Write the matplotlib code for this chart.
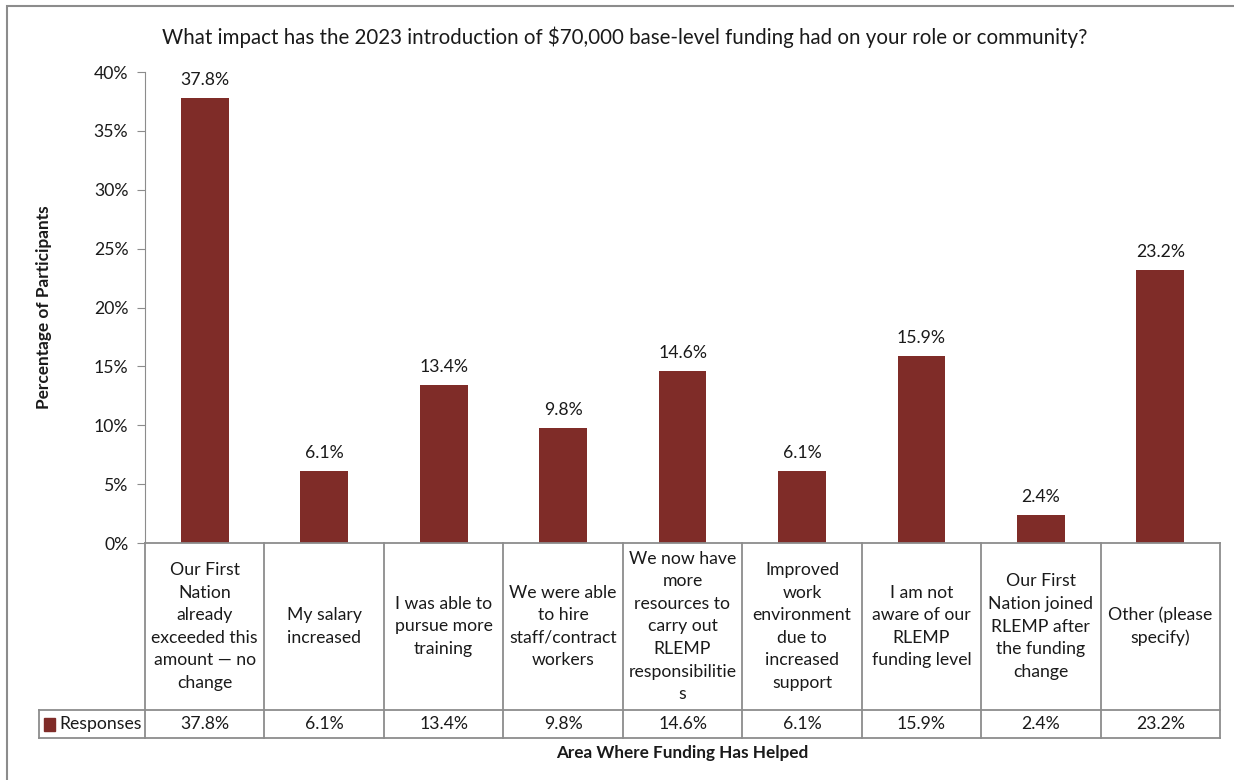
import matplotlib.pyplot as plt
from matplotlib.patches import Rectangle
from matplotlib.lines import Line2D

plt.rcParams['font.family'] = ['Lato', 'DejaVu Sans']

categories = [
    "Our First\nNation\nalready\nexceeded this\namount \u2014 no\nchange",
    "My salary\nincreased",
    "I was able to\npursue more\ntraining",
    "We were able\nto hire\nstaff/contract\nworkers",
    "We now have\nmore\nresources to\ncarry out\nRLEMP\nresponsibilitie\ns",
    "Improved\nwork\nenvironment\ndue to\nincreased\nsupport",
    "I am not\naware of our\nRLEMP\nfunding level",
    "Our First\nNation joined\nRLEMP after\nthe funding\nchange",
    "Other (please\nspecify)",
]
responses = [37.8, 6.1, 13.4, 9.8, 14.6, 6.1, 15.9, 2.4, 23.2]
yticks = [0, 5, 10, 15, 20, 25, 30, 35, 40]

bar_color = '#7F2C28'
grid_color = '#8C8C8C'
txt = '#1a1a1a'
fs = 12.7

W, H = 1234, 780
fig = plt.figure(figsize=(W / 100, H / 100), dpi=100)

# chart border
fig.add_artist(Rectangle((7 / W, -0.05), 1.2, 1 - 6 / H + 0.05, transform=fig.transFigure,
                         fill=False, edgecolor='#8C8C8C', linewidth=1.5))

# bar axes
x0, x1 = 145, 1220
ax = fig.add_axes([x0 / W, (H - 543) / H, (x1 - x0) / W, (543 - 72) / H])
xs = range(len(responses))
ax.bar(xs, responses, width=0.4, color=bar_color)
ax.set_xlim(-0.5, len(responses) - 0.5)
ax.set_ylim(0, 40)
ax.set_yticks(yticks)
ax.set_yticklabels([f'{t}%' for t in yticks], fontsize=fs, color=txt)
ax.tick_params(axis='y', direction='out', length=6, color=grid_color, pad=6)
ax.set_xticks([])
for s in ['top', 'right', 'bottom']:
    ax.spines[s].set_visible(False)
ax.spines['left'].set_color(grid_color)
for x, v in zip(xs, responses):
    ax.annotate(f'{v}%', (x, v), xytext=(0, 7), textcoords='offset points',
                ha='center', va='bottom', fontsize=fs, color=txt)

# data table under the bars
tab = fig.add_axes([x0 / W, (H - 738) / H, (x1 - x0) / W, (738 - 543) / H])
tab.set_xlim(-0.5, len(responses) - 0.5)
tab.set_ylim(195, 0)
tab.axis('off')
lw = 1.3
n = len(responses)
legend_left = -0.5 - (x0 - 39) / ((x1 - x0) / n)
tab.add_line(Line2D([-0.5, n - 0.5], [0, 0], color=grid_color, lw=lw, clip_on=False))
for y in [167, 195]:
    tab.add_line(Line2D([legend_left, n - 0.5], [y, y], color=grid_color, lw=lw, clip_on=False))
for i in range(n + 1):
    tab.add_line(Line2D([i - 0.5, i - 0.5], [0, 195], color=grid_color, lw=lw, clip_on=False))
tab.add_line(Line2D([legend_left, legend_left], [167, 195], color=grid_color, lw=lw, clip_on=False))

for i, (c, v) in enumerate(zip(categories, responses)):
    tab.text(i, 83.5, c, ha='center', va='center', fontsize=fs, color=txt,
             linespacing=1.5, clip_on=False)
    tab.text(i, 181, f'{v}%', ha='center', va='center', fontsize=fs, color=txt, clip_on=False)

tab.add_patch(Rectangle((legend_left + 0.04, 175), 0.09, 13, color=bar_color, clip_on=False))
tab.text(legend_left + 0.17, 181, 'Responses', ha='left', va='center', fontsize=fs,
         color=txt, clip_on=False)

fig.text(625 / W, 1 - 37 / H,
         'What impact has the 2023 introduction of $70,000 base-level funding had on your role or community?',
         ha='center', va='center', fontsize=14.8, color=txt)
fig.text(44 / W, 1 - 307 / H, 'Percentage of Participants', rotation=90,
         ha='center', va='center', fontsize=12.4, fontweight='bold', color=txt)
fig.text(682 / W, 1 - 753 / H, 'Area Where Funding Has Helped',
         ha='center', va='center', fontsize=12.3, fontweight='bold', color=txt)

fig.savefig('out.png', dpi=100)
